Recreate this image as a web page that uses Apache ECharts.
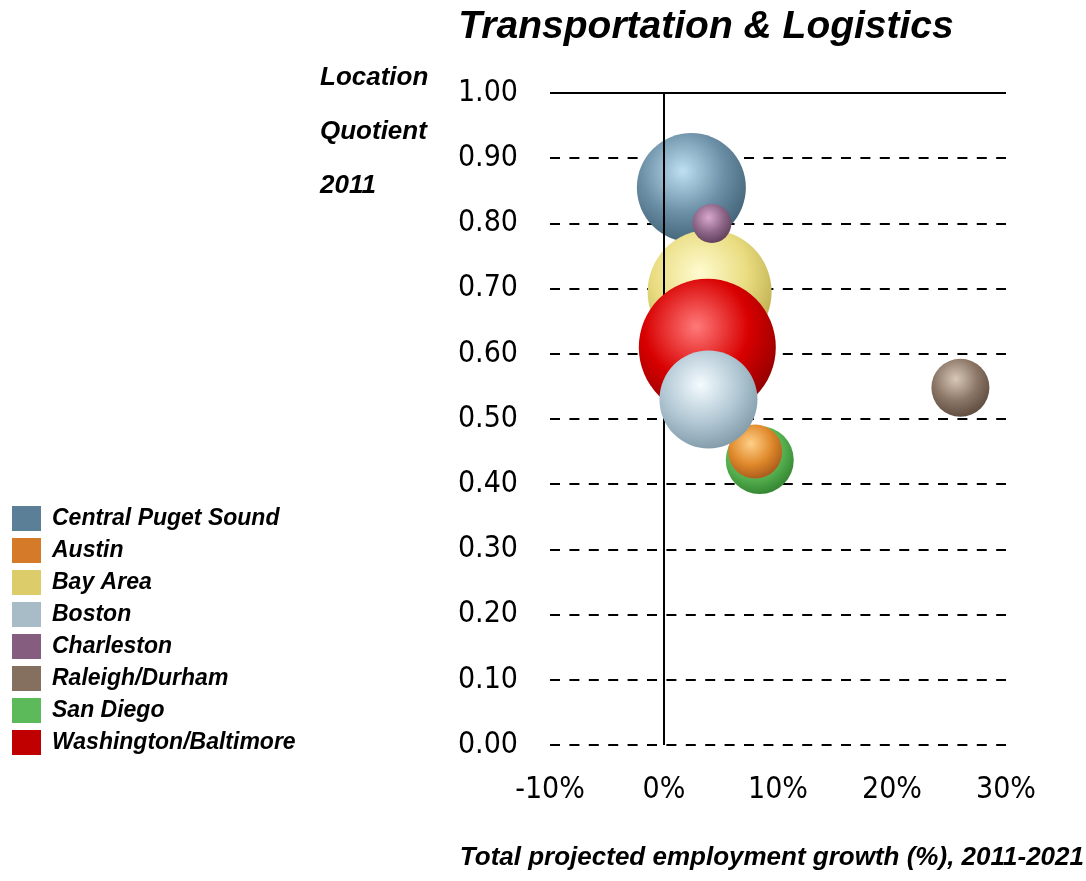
<!DOCTYPE html>
<html>
<head>
<meta charset="utf-8">
<script src="https://cdn.jsdelivr.net/npm/echarts@6/dist/echarts.min.js"></script>
<style>html,body{margin:0;padding:0;background:#fff}#c{width:1086px;height:881px}</style>
</head>
<body>
<div id="c"></div>
<script>
const categories = ['Central Puget Sound','Austin','Bay Area','Boston','Charleston','Raleigh/Durham','San Diego','Washington/Baltimore'];
const growth = [2.4, 8.0, 4.0, 3.9, 4.2, 26.0, 8.4, 3.8];
const locationQuotient = [0.855, 0.45, 0.695, 0.53, 0.80, 0.548, 0.437, 0.61];
const bubbleSize = [109, 54, 124, 98, 39, 58, 68, 137];
const xTicks = [-10, 0, 10, 20, 30];
const yTicks = [0, 0.1, 0.2, 0.3, 0.4, 0.5, 0.6, 0.7, 0.8, 0.9, 1.0];

const legendColors = ['#5b7f96','#d57a29','#dccd6a','#a7bcc7','#855e7f','#85705f','#5dba5a','#c00000'];
const sphere = [
  ['#bfe0f2','#6b8fa6','#3e5e72'],
  ['#ffd089','#e08a2c','#a4561a'],
  ['#fffbd0','#e9dc80','#b8a84a'],
  ['#f4fbff','#b2c8d4','#7d97a6'],
  ['#d9a8cf','#8e6788','#5c3c58'],
  ['#d8c8b8','#8a7565','#5a483c'],
  ['#a8e8a0','#5cb856','#2f7f2c'],
  ['#ff7a7a','#d80000','#8a0000']
];
const zOrder = [2, 4, 3, 6, 5, 2, 3, 5];
const axisFont = '"DejaVu Sans Condensed", "Liberation Sans", sans-serif';

const series = categories.map((name, i) => ({
  name: name,
  type: 'scatter',
  z: zOrder[i],
  data: [[growth[i], locationQuotient[i], bubbleSize[i]]],
  symbolSize: d => d[2],
  itemStyle: {
    opacity: 1,
    color: {
      type: 'radial', x: 0.42, y: 0.35, r: 0.7,
      colorStops: [
        {offset: 0, color: sphere[i][0]},
        {offset: 0.55, color: sphere[i][1]},
        {offset: 1, color: sphere[i][2]}
      ]
    }
  },
  emphasis: {disabled: true}
}));

series.unshift({
  name: 'axes',
  type: 'scatter',
  z: 1,
  data: [],
  silent: true,
  markLine: {
    silent: true,
    symbol: 'none',
    label: {show: false},
    lineStyle: {color: '#000', width: 2, type: 'solid'},
    data: [{xAxis: 0}, {yAxis: 1}]
  }
});

const chart = echarts.init(document.getElementById('c'));
chart.setOption({
  backgroundColor: '#fff',
  animation: false,
  title: {
    text: 'Transportation & Logistics',
    left: 701, top: 3, textAlign: 'center',
    textStyle: {fontFamily: 'Liberation Sans', fontSize: 39, fontWeight: 'bold', fontStyle: 'italic', color: '#000'}
  },
  legend: {
    data: categories.map((n, i) => ({name: n, itemStyle: {color: legendColors[i]}})),
    orient: 'vertical',
    left: 12, top: 506, padding: 0,
    itemWidth: 29, itemHeight: 25, itemGap: 7,
    icon: 'rect',
    selectedMode: false,
    textStyle: {fontFamily: 'Liberation Sans', fontSize: 23, fontWeight: 'bold', fontStyle: 'italic', color: '#000', padding: [0,0,0,6]}
  },
  grid: {left: 550, right: 80, top: 93, bottom: 136},
  xAxis: {
    type: 'value', min: xTicks[0], max: xTicks[xTicks.length-1], interval: 10,
    axisLine: {show: false}, axisTick: {show: false}, splitLine: {show: false},
    axisLabel: {formatter: '{value}%', margin: 30, fontFamily: axisFont, fontSize: 30, color: '#000'}
  },
  yAxis: {
    type: 'value', min: yTicks[0], max: yTicks[yTicks.length-1], interval: 0.1,
    axisLine: {show: false}, axisTick: {show: false},
    splitLine: {show: true, lineStyle: {color: '#000', width: 2, type: [10, 9.4]}},
    axisLabel: {formatter: v => v.toFixed(2), margin: 32, fontFamily: axisFont, fontSize: 30, color: '#000'}
  },
  graphic: [
    {type: 'text', left: 320, top: 65, style: {text: 'Location', font: 'italic bold 26px "Liberation Sans"', fill: '#000'}},
    {type: 'text', left: 320, top: 119, style: {text: 'Quotient', font: 'italic bold 26px "Liberation Sans"', fill: '#000'}},
    {type: 'text', left: 320, top: 173, style: {text: '2011', font: 'italic bold 26px "Liberation Sans"', fill: '#000'}},
    {type: 'text', right: 2, top: 845, style: {text: 'Total projected employment growth (%), 2011-2021', font: 'italic bold 26px "Liberation Sans"', fill: '#000'}}
  ],
  series: series
});
</script>
</body>
</html>
